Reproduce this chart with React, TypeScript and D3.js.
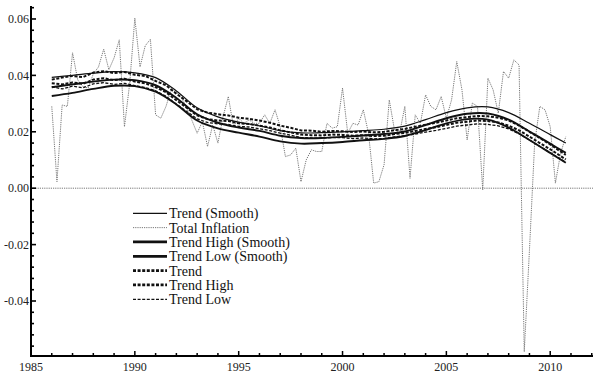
import React from "react";
import * as d3 from "d3";

// ---------- DATA ----------
// Total inflation, quarterly from 1986 Q1
const totalInflation: number[] = [
  0.029, 0.0023, 0.0295, 0.029, 0.048, 0.0384, 0.036, 0.0355, 0.0405, 0.043,
  0.0493, 0.042, 0.0462, 0.0526, 0.0218, 0.037, 0.0603, 0.043, 0.0505, 0.0528,
  0.026, 0.0248, 0.029, 0.035, 0.034, 0.032, 0.0285, 0.024, 0.0195, 0.0236,
  0.0148, 0.0224, 0.016, 0.0254, 0.0325, 0.0218, 0.0248, 0.023, 0.0242, 0.023,
  0.023, 0.026, 0.023, 0.0278, 0.0218, 0.0112, 0.0118, 0.0142, 0.0023, 0.01,
  0.0136, 0.013, 0.013, 0.023, 0.0213, 0.0218, 0.0355, 0.0195, 0.023, 0.0224,
  0.0278, 0.0195, 0.0018, 0.0023, 0.0083, 0.0313, 0.0207, 0.0196, 0.029, 0.0035,
  0.026, 0.023, 0.0331, 0.029, 0.0278, 0.0325, 0.0248, 0.0313, 0.0449, 0.0349,
  0.0171, 0.0302, 0.029, -0.0006, 0.039, 0.0349, 0.0266, 0.0414, 0.039, 0.0455,
  0.0437, -0.058, -0.022, 0.016, 0.029, 0.0278, 0.0218, 0.0018, 0.0124, 0.0183,
];
const inflationStart = 1986;

// Smooth trend curves (knots)
const smoothYears: number[] = [
  1986, 1987, 1988, 1989, 1990, 1991, 1992, 1993, 1994, 1995, 1996, 1997, 1998,
  1999, 2000, 2001, 2002, 2003, 2004, 2005, 2006, 2007, 2008, 2009, 2010, 2010.75,
];
const trendSmooth: number[] = [
  0.0393, 0.04, 0.0408, 0.0413, 0.0409, 0.0392, 0.0345, 0.0285, 0.0253, 0.0234,
  0.0221, 0.0204, 0.0196, 0.0197, 0.02, 0.0204, 0.0209, 0.022, 0.0243, 0.0268,
  0.0285, 0.0288, 0.0268, 0.023, 0.019, 0.016,
];
const trendHighSmooth: number[] = [
  0.0358, 0.0368, 0.0378, 0.0385, 0.0383, 0.0365, 0.032, 0.0262, 0.0232, 0.0215,
  0.0203, 0.0186, 0.0178, 0.0178, 0.0182, 0.0187, 0.0192, 0.0201, 0.0224, 0.0248,
  0.0264, 0.0265, 0.0243, 0.0201, 0.0158, 0.0125,
];
const trendLowSmooth: number[] = [
  0.0327, 0.0338, 0.0352, 0.0363, 0.0362, 0.0342, 0.0297, 0.024, 0.0212, 0.0197,
  0.0183, 0.0166, 0.0158, 0.016, 0.0164, 0.017, 0.0175, 0.0185, 0.0206, 0.023,
  0.0245, 0.0243, 0.0215, 0.0171, 0.0125, 0.009,
];

// Dashed (unsmoothed) trend series, semiannual
const dashYears: number[] = [
  1986, 1986.5, 1987, 1987.5, 1988, 1988.5, 1989, 1989.5, 1990, 1990.5, 1991,
  1991.5, 1992, 1992.5, 1993, 1993.5, 1994, 1994.5, 1995, 1995.5, 1996, 1996.5,
  1997, 1997.5, 1998, 1998.5, 1999, 1999.5, 2000, 2000.5, 2001, 2001.5, 2002,
  2002.5, 2003, 2003.5, 2004, 2004.5, 2005, 2005.5, 2006, 2006.5, 2007, 2007.5,
  2008, 2008.5, 2009, 2009.5, 2010, 2010.5, 2010.75,
];
const trendHigh: number[] = [
  0.0385, 0.0392, 0.0398, 0.0394, 0.041, 0.0415, 0.0408, 0.0412, 0.0402, 0.0398,
  0.038, 0.0365, 0.0335, 0.0308, 0.028, 0.0268, 0.0262, 0.0258, 0.025, 0.0246,
  0.024, 0.0232, 0.0222, 0.0214, 0.0205, 0.0204, 0.02, 0.0203, 0.0202, 0.0199,
  0.0201, 0.0198, 0.02, 0.0206, 0.021, 0.0218, 0.0225, 0.0232, 0.024, 0.0248,
  0.0252, 0.0256, 0.0255, 0.025, 0.024, 0.0222, 0.02, 0.0178, 0.0155, 0.013, 0.0118,
];
const trend: number[] = [
  0.0372, 0.0368, 0.0375, 0.037, 0.0385, 0.039, 0.0383, 0.0388, 0.0378, 0.0372,
  0.0358, 0.034, 0.0312, 0.0285, 0.0258, 0.0245, 0.024, 0.0238, 0.023, 0.0228,
  0.0222, 0.0215, 0.0205, 0.0198, 0.019, 0.0188, 0.0187, 0.019, 0.0189, 0.0186,
  0.0188, 0.0185, 0.0186, 0.0192, 0.0196, 0.0203, 0.021, 0.0216, 0.0224, 0.0232,
  0.0236, 0.024, 0.0238, 0.0233, 0.0222, 0.0205, 0.0183, 0.016, 0.0138, 0.0114, 0.0102,
];
const trendLow: number[] = [
  0.036, 0.0352, 0.0362, 0.0356, 0.037, 0.0374, 0.0368, 0.0372, 0.0364, 0.0357,
  0.0345, 0.0326, 0.0298, 0.0272, 0.0246, 0.0233, 0.0228, 0.0226, 0.0219, 0.0217,
  0.0211, 0.0204, 0.0195, 0.0188, 0.018, 0.0178, 0.0177, 0.018, 0.0179, 0.0176,
  0.0178, 0.0175, 0.0176, 0.0182, 0.0186, 0.0192, 0.0199, 0.0205, 0.0212, 0.022,
  0.0224, 0.0228, 0.0226, 0.0221, 0.021, 0.0193, 0.0171, 0.0148, 0.0126, 0.0103, 0.0092,
];

const xMajorTicks: number[] = [1985, 1990, 1995, 2000, 2005, 2010];
const yMajorTicks: number[] = [-0.04, -0.02, 0.0, 0.02, 0.04, 0.06];

const legendLabels: string[] = [
  "Trend (Smooth)",
  "Total Inflation",
  "Trend High (Smooth)",
  "Trend Low (Smooth)",
  "Trend",
  "Trend High",
  "Trend Low",
];

// ---------- STYLES ----------
type Sty = { stroke: string; width: number; dash?: string };
const styles: Sty[] = [
  { stroke: "#111", width: 1.2 },
  { stroke: "#777", width: 1, dash: "1.2,1" },
  { stroke: "#111", width: 1.9 },
  { stroke: "#111", width: 1.9 },
  { stroke: "#111", width: 2, dash: "3,1.6" },
  { stroke: "#111", width: 2, dash: "3,1.6" },
  { stroke: "#111", width: 1.3, dash: "3,1.6" },
];

const W = 600;
const H = 379;
const left = 31;
const right = 593;
const top = 6;
const bottom = 356;
const FONT = "'Liberation Serif', 'Times New Roman', serif";

export default function App() {
  const x = d3.scaleLinear().domain([1985, 2012.06]).range([left, right]);
  const y = d3.scaleLinear().domain([-0.0595, 0.0646]).range([bottom, top]);

  const smoothLine = d3
    .line<[number, number]>()
    .x((d) => x(d[0]))
    .y((d) => y(d[1]))
    .curve(d3.curveCatmullRom.alpha(0.5));
  const straight = d3
    .line<[number, number]>()
    .x((d) => x(d[0]))
    .y((d) => y(d[1]));

  const zip = (xs: number[], ys: number[]) =>
    xs.map((v, i) => [v, ys[i]] as [number, number]);

  const inflPts = totalInflation.map(
    (v, i) => [inflationStart + i / 4, v] as [number, number]
  );

  const xMinor = d3.range(1985, 2013, 1);
  const yMinor = d3.range(-0.056, 0.0646, 0.004).map((v) => +v.toFixed(3));

  const series = [
    { d: smoothLine(zip(smoothYears, trendSmooth)), s: styles[0] },
    { d: straight(inflPts), s: styles[1] },
    { d: smoothLine(zip(smoothYears, trendHighSmooth)), s: styles[2] },
    { d: smoothLine(zip(smoothYears, trendLowSmooth)), s: styles[3] },
    { d: straight(zip(dashYears, trend)), s: styles[4] },
    { d: straight(zip(dashYears, trendHigh)), s: styles[5] },
    { d: straight(zip(dashYears, trendLow)), s: styles[6] },
  ];
  const drawOrder = [1, 4, 5, 6, 0, 2, 3];

  const legX0 = 133;
  const legX1 = 167;
  const legY0 = 213.3;
  const legDy = 14.33;

  return (
    <svg
      width={W}
      height={H}
      style={{ position: "absolute", left: 0, top: 0, background: "#fff" }}
    >
      <defs>
        <clipPath id="plot">
          <rect x={left} y={top} width={right - left} height={bottom - top} />
        </clipPath>
      </defs>
      <rect width={W} height={H} fill="#fff" />
      {/* zero line */}
      <line
        x1={left}
        x2={right}
        y1={y(0)}
        y2={y(0)}
        stroke="#777"
        strokeWidth={1}
        strokeDasharray="1.2,1"
      />
      <g clipPath="url(#plot)" fill="none">
        {drawOrder.map((k) => (
          <path
            key={k}
            d={series[k].d || ""}
            stroke={series[k].s.stroke}
            strokeWidth={series[k].s.width}
            strokeDasharray={series[k].s.dash}
            strokeLinejoin="round"
          />
        ))}
      </g>
      {/* axes */}
      <line x1={left} x2={right} y1={bottom} y2={bottom} stroke="#000" strokeWidth={2} />
      <line x1={left} x2={left} y1={top} y2={bottom + 1} stroke="#000" strokeWidth={2} />
      {xMinor.map((t) => {
        const major = xMajorTicks.includes(t);
        return (
          <line
            key={"xt" + t}
            x1={x(t)}
            x2={x(t)}
            y1={bottom}
            y2={bottom - (major ? 5 : 3)}
            stroke="#000"
            strokeWidth={1.5}
          />
        );
      })}
      {yMinor.map((t) => {
        const major = yMajorTicks.some((m) => Math.abs(m - t) < 1e-6);
        return (
          <line
            key={"yt" + t}
            x1={left}
            x2={left + (major ? 5 : 3)}
            y1={y(t)}
            y2={y(t)}
            stroke="#000"
            strokeWidth={1.6}
          />
        );
      })}
      {xMajorTicks.map((t) => (
        <text
          key={"xl" + t}
          x={x(t)}
          y={bottom + 15}
          textAnchor="middle"
          fontFamily={FONT}
          fontSize={12}
          fill="#222"
        >
          {t}
        </text>
      ))}
      {yMajorTicks.map((t) => (
        <text
          key={"yl" + t}
          x={left - 2}
          y={y(t)}
          dy="0.35em"
          textAnchor="end"
          fontFamily={FONT}
          fontSize={12}
          fill="#222"
        >
          {t.toFixed(2)}
        </text>
      ))}
      {/* legend */}
      {legendLabels.map((lab, i) => {
        const s = styles[i];
        const yy = legY0 + i * legDy;
        return (
          <g key={"lg" + i}>
            <line
              x1={legX0}
              x2={legX1}
              y1={yy}
              y2={yy}
              stroke={s.stroke}
              strokeWidth={s.width + (i >= 2 && i <= 5 ? 0.8 : 0)}
              strokeDasharray={s.dash}
            />
            <text
              x={legX1 + 2}
              y={yy}
              dy="0.35em"
              fontFamily={FONT}
              fontSize={14}
              fill="#111"
            >
              {lab}
            </text>
          </g>
        );
      })}
    </svg>
  );
}
